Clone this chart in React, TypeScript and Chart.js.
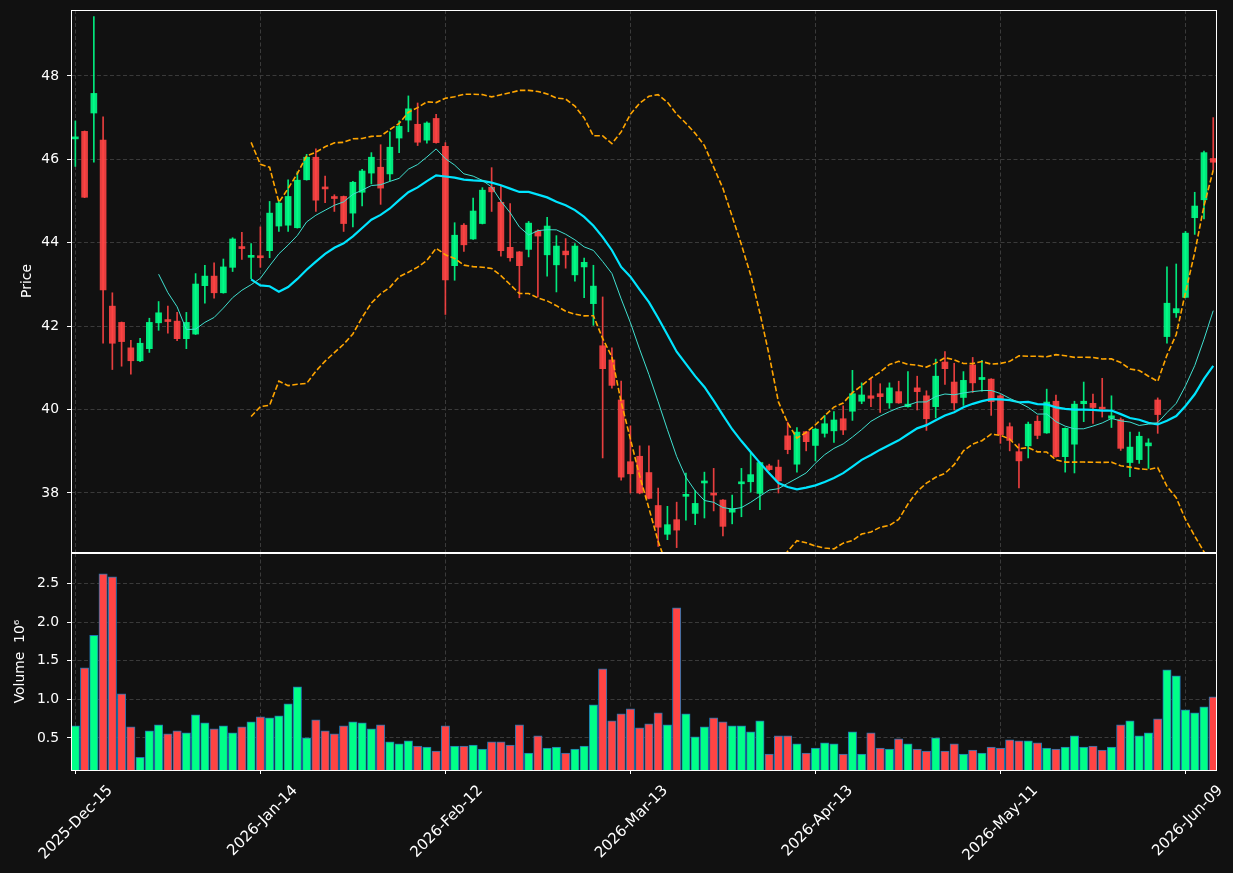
import { useEffect, useRef } from 'react';
import { Chart, registerables } from 'chart.js';

Chart.register(...registerables);

// ---- Data ----
const tickIndex = [0, 20, 40, 60, 80, 100, 120];
const tickLabels = ['2025-Dec-15', '2026-Jan-14', '2026-Feb-12', '2026-Mar-13', '2026-Apr-13', '2026-May-11', '2026-Jun-09'];

const opens = [
  46.49, 46.67, 47.11, 46.46, 42.48, 42.09, 41.48, 41.17, 41.46, 42.08,
  42.13, 42.12, 41.70, 41.81, 42.97, 43.20, 42.80, 43.41, 43.88, 43.65,
  43.66, 43.81, 44.40, 44.42, 44.36, 45.51, 46.05, 45.32, 45.08, 45.11,
  44.71, 45.21, 45.67, 45.81, 45.65, 46.51, 46.94, 46.84, 46.46, 46.98,
  46.31, 43.45, 44.42, 44.09, 44.46, 45.33, 44.97, 43.89, 43.78, 43.84,
  44.28, 43.71, 43.47, 43.80, 43.23, 43.42, 42.54, 41.53, 41.19, 40.23,
  38.75, 38.88, 38.49, 37.70, 37.01, 37.36, 37.92, 37.51, 38.24, 37.99,
  37.83, 37.54, 38.22, 38.27, 37.99, 38.65, 38.62, 39.37, 38.69, 39.47,
  39.14, 39.43, 39.49, 39.78, 39.96, 40.20, 40.33, 40.38, 40.16, 40.43,
  40.07, 40.52, 40.33, 40.07, 41.14, 40.66, 40.29, 41.07, 40.72, 40.73,
  40.33, 39.59, 38.99, 39.13, 39.72, 39.44, 40.20, 38.87, 39.17, 40.14,
  40.15, 40.04, 39.79, 39.76, 38.73, 38.80, 39.13, 40.23, 41.75, 42.32,
  42.69, 44.60, 45.03, 46.02,
];
const highs = [
  46.92, 46.68, 49.42, 47.02, 42.80, 42.10, 41.66, 41.71, 42.19, 42.59,
  42.48, 42.33, 42.33, 43.26, 43.46, 43.52, 43.61, 44.12, 44.25, 43.98,
  44.38, 44.99, 45.00, 45.51, 45.70, 46.12, 46.25, 45.60, 45.15, 45.12,
  45.47, 45.76, 46.16, 46.35, 46.66, 46.92, 47.52, 47.35, 46.90, 47.08,
  46.40, 44.48, 44.46, 45.07, 45.32, 45.80, 45.35, 44.94, 43.79, 44.51,
  44.31, 44.61, 44.17, 44.10, 43.98, 43.63, 43.46, 42.70, 41.48, 40.68,
  39.61, 39.13, 39.13, 38.12, 37.68, 37.78, 38.48, 38.06, 38.50, 38.59,
  37.84, 37.95, 38.59, 38.96, 38.74, 38.69, 38.79, 39.70, 39.57, 39.48,
  39.55, 39.86, 39.95, 40.09, 40.94, 40.64, 40.75, 40.62, 40.64, 40.68,
  40.91, 40.80, 40.45, 41.21, 41.39, 41.11, 40.91, 41.25, 41.18, 40.74,
  40.36, 39.68, 39.18, 39.70, 39.85, 40.49, 40.35, 39.56, 40.20, 40.66,
  40.37, 40.75, 40.33, 39.80, 39.46, 39.46, 39.30, 40.28, 43.42, 43.49,
  44.27, 45.21, 46.20, 47.00,
];
const lows = [
  45.83, 45.08, 45.93, 41.59, 40.96, 41.04, 40.85, 41.15, 41.37, 41.90,
  41.83, 41.65, 41.46, 41.80, 42.55, 42.67, 42.79, 43.31, 43.60, 43.14,
  43.41, 43.64, 44.27, 44.27, 44.35, 45.50, 44.75, 44.96, 44.75, 44.27,
  44.38, 44.88, 45.41, 44.92, 45.49, 46.16, 46.66, 46.33, 46.39, 46.39,
  42.28, 43.10, 43.79, 44.08, 44.45, 44.75, 43.68, 43.56, 42.68, 43.66,
  42.70, 43.20, 42.82, 43.39, 43.08, 42.68, 42.02, 38.84, 40.51, 38.31,
  38.00, 37.98, 37.86, 36.72, 36.88, 36.69, 37.35, 37.24, 37.40, 37.57,
  36.97, 37.26, 37.43, 38.02, 37.60, 38.54, 38.00, 38.94, 38.50, 39.01,
  38.77, 39.34, 39.21, 39.40, 39.74, 40.14, 40.07, 39.93, 40.03, 40.15,
  40.06, 39.99, 39.50, 39.80, 40.60, 39.99, 40.10, 40.41, 40.44, 39.86,
  39.19, 39.01, 38.12, 38.84, 39.30, 39.43, 38.86, 38.50, 38.48, 39.71,
  39.67, 39.82, 39.57, 39.02, 38.39, 38.71, 38.59, 39.43, 41.59, 42.21,
  42.68, 44.20, 44.57, 45.74,
];
const closes = [
  46.53, 45.09, 47.58, 42.87, 41.59, 41.63, 41.17, 41.59, 42.09, 42.32,
  42.11, 41.70, 42.09, 43.01, 43.20, 42.80, 43.42, 44.09, 43.86, 43.66,
  43.64, 44.71, 44.95, 45.11, 45.50, 46.05, 45.02, 45.29, 45.06, 44.46,
  45.45, 45.72, 46.05, 45.31, 46.29, 46.79, 47.21, 46.41, 46.87, 46.40,
  43.11, 44.18, 43.95, 44.76, 45.26, 45.22, 43.81, 43.64, 43.45, 44.47,
  44.16, 44.40, 43.92, 43.71, 43.92, 43.53, 42.96, 40.98, 40.58, 38.38,
  38.46, 38.00, 37.87, 37.18, 37.24, 37.11, 37.96, 37.75, 38.25, 37.95,
  37.20, 37.62, 38.24, 38.44, 38.73, 38.56, 38.29, 39.04, 39.46, 39.23,
  39.53, 39.66, 39.75, 39.51, 40.38, 40.35, 40.27, 40.31, 40.52, 40.16,
  40.13, 40.43, 39.78, 40.80, 40.98, 40.16, 40.70, 40.64, 40.77, 40.19,
  39.40, 39.26, 38.77, 39.65, 39.38, 40.18, 38.87, 39.55, 40.13, 40.20,
  40.05, 40.01, 39.85, 39.07, 39.10, 39.36, 39.20, 39.88, 42.55, 42.42,
  44.23, 44.88, 46.16, 45.93,
];
// volume in millions
const volumes = [
  0.656, 1.409, 1.833, 2.630, 2.591, 1.071, 0.643, 0.249, 0.591, 0.669,
  0.552, 0.591, 0.565, 0.799, 0.695, 0.617, 0.656, 0.565, 0.643, 0.708,
  0.773, 0.760, 0.786, 0.942, 1.162, 0.500, 0.734, 0.591, 0.552, 0.656,
  0.708, 0.695, 0.617, 0.669, 0.448, 0.422, 0.461, 0.396, 0.383, 0.331,
  0.656, 0.396, 0.396, 0.409, 0.357, 0.448, 0.448, 0.409, 0.669, 0.305,
  0.526, 0.370, 0.383, 0.305, 0.357, 0.396, 0.929, 1.396, 0.721, 0.812,
  0.877, 0.630, 0.682, 0.825, 0.669, 2.188, 0.812, 0.513, 0.643, 0.760,
  0.708, 0.656, 0.656, 0.578, 0.721, 0.292, 0.526, 0.526, 0.422, 0.305,
  0.370, 0.435, 0.422, 0.292, 0.578, 0.292, 0.565, 0.370, 0.357, 0.487,
  0.422, 0.357, 0.331, 0.500, 0.331, 0.422, 0.292, 0.344, 0.305, 0.383,
  0.370, 0.474, 0.461, 0.461, 0.435, 0.370, 0.357, 0.383, 0.526, 0.383,
  0.396, 0.344, 0.383, 0.669, 0.721, 0.526, 0.565, 0.747, 1.383, 1.305,
  0.864, 0.825, 0.903, 1.032,
];
const priceTicks = [38, 40, 42, 44, 46, 48];
const volumeTicks = [0.5, 1.0, 1.5, 2.0, 2.5];

// ---- Styling constants ----
const X_MIN = -0.47;
const X_MAX = 123.3;
const BG = '#111111';
const GRID = '#3a3a3a';
const TEXT = '#ffffff';
const FONT = { family: "'DejaVu Sans'", size: 13.9 };
const XFONT = { family: "'DejaVu Sans'", size: 15 };
const UP_CANDLE = 'rgba(0,255,136,0.9)';
const DOWN_CANDLE = 'rgba(255,68,68,0.9)';
const UP_VOL = '#00ff88';
const DOWN_VOL = '#ff4444';

// rolling indicators derived from the close series
function rollingMean(vals: number[], n: number) {
  return vals.map((_, i) => {
    if (i < n - 1) return null;
    let s = 0;
    for (let k = i - n + 1; k <= i; k++) s += vals[k];
    return s / n;
  });
}
function rollingStd(vals: number[], n: number) {
  const m = rollingMean(vals, n);
  return vals.map((_, i) => {
    if (i < n - 1) return null;
    let s = 0;
    for (let k = i - n + 1; k <= i; k++) s += (vals[k] - (m[i] as number)) ** 2;
    return Math.sqrt(s / n);
  });
}
const toPoints = (arr: (number | null)[]) =>
  arr.map((v, i) => (v === null ? null : { x: i, y: v })).filter(Boolean) as { x: number; y: number }[];

const frame = {
  id: 'frame',
  afterDraw(chart: any) {
    const { ctx, chartArea: a } = chart;
    ctx.save();
    ctx.strokeStyle = '#ffffff';
    ctx.lineWidth = 1;
    const l = Math.round(a.left), t = Math.round(a.top), r = Math.round(a.right), b = Math.round(a.bottom);
    ctx.strokeRect(l + 0.5, t + 0.5, r - l, b - t);
    ctx.restore();
  },
};

export default function App() {
  const priceRef = useRef<HTMLCanvasElement>(null);
  const volRef = useRef<HTMLCanvasElement>(null);

  useEffect(() => {
    const isUp = closes.map((c, i) => c >= opens[i]);
    const ma10 = rollingMean(closes, 10);
    const ma20 = rollingMean(closes, 20);
    const sd20 = rollingStd(closes, 20);
    const bbUp = ma20.map((m, i) => (m === null ? null : m + 2 * (sd20[i] as number)));
    const bbLo = ma20.map((m, i) => (m === null ? null : m - 2 * (sd20[i] as number)));

    const xTicksBuild = (s: any) => {
      s.ticks = tickIndex.map((v) => ({ value: v }));
    };

    const priceChart = new Chart(priceRef.current as HTMLCanvasElement, {
      type: 'bar',
      data: {
        datasets: [
          {
            type: 'line',
            data: toPoints(ma10),
            borderColor: '#40e0d0',
            borderWidth: 1,
            pointRadius: 0,
            tension: 0,
            order: 0,
          } as any,
          {
            type: 'line',
            data: toPoints(ma20),
            borderColor: '#00e5ff',
            borderWidth: 2.2,
            pointRadius: 0,
            tension: 0,
            order: 0,
          } as any,
          {
            type: 'line',
            data: toPoints(bbUp),
            borderColor: '#ffa500',
            borderWidth: 1.6,
            borderDash: [5.5, 2.4],
            pointRadius: 0,
            tension: 0,
            order: 0,
          } as any,
          {
            type: 'line',
            data: toPoints(bbLo),
            borderColor: '#ffa500',
            borderWidth: 1.6,
            borderDash: [5.5, 2.4],
            pointRadius: 0,
            tension: 0,
            order: 0,
          } as any,
          {
            type: 'bar',
            data: opens.map((o, i) => ({ x: i, y: [o, closes[i]] })),
            backgroundColor: isUp.map((u) => (u ? UP_CANDLE : DOWN_CANDLE)),
            borderWidth: 0,
            barThickness: 6,
            minBarLength: 2,
            grouped: false,
            order: 1,
          } as any,
          {
            type: 'bar',
            data: lows.map((l, i) => ({ x: i, y: [l, highs[i]] })),
            backgroundColor: isUp.map((u) => (u ? UP_CANDLE : DOWN_CANDLE)),
            borderWidth: 0,
            barThickness: 1,
            grouped: false,
            order: 2,
          } as any,
        ],
      },
      options: {
        responsive: false,
        animation: false,
        layout: { padding: { top: 10, right: 17, bottom: 10, left: 0 } },
        plugins: { legend: { display: false }, tooltip: { enabled: false } },
        scales: {
          x: {
            type: 'linear',
            offset: false,
            min: X_MIN,
            max: X_MAX,
            afterBuildTicks: xTicksBuild,
            afterFit: (s: any) => {
              s.height = 0;
              s.paddingLeft = 0;
              s.paddingRight = 0;
            },
            ticks: { display: false },
            grid: { offset: false, color: GRID, lineWidth: 1, drawTicks: false, borderDash: [4, 2.5] } as any,
            border: { display: false, dash: [4, 2.5] },
          },
          y: {
            type: 'linear',
            min: 36.585,
            max: 49.58,
            afterBuildTicks: (s: any) => {
              s.ticks = priceTicks.map((v) => ({ value: v }));
            },
            afterFit: (s: any) => {
              s.width = 71;
              s.paddingTop = 0;
              s.paddingBottom = 0;
            },
            ticks: { color: TEXT, font: FONT, padding: 8, callback: (v: any) => String(v) },
            grid: { color: GRID, lineWidth: 1, tickColor: '#ffffff', tickLength: 4, tickBorderDash: [], borderDash: [4, 2.5] } as any,
            border: { display: false, dash: [4, 2.5] },
            title: { display: true, text: 'Price', color: TEXT, font: FONT, padding: { top: 19, bottom: 0 } },
          },
        },
      },
      plugins: [frame],
    } as any);

    const volChart = new Chart(volRef.current as HTMLCanvasElement, {
      type: 'bar',
      data: {
        datasets: [
          {
            data: volumes.map((v, i) => ({ x: i, y: v })),
            backgroundColor: isUp.map((u) => (u ? UP_VOL : DOWN_VOL)),
            borderColor: '#1f77b4',
            borderWidth: 1,
            barThickness: 8.4,
            grouped: false,
          },
        ],
      },
      options: {
        responsive: false,
        animation: false,
        layout: { padding: { top: 1, right: 17, bottom: 0, left: 0 } },
        plugins: { legend: { display: false }, tooltip: { enabled: false } },
        scales: {
          x: {
            type: 'linear',
            offset: false,
            min: X_MIN,
            max: X_MAX,
            afterBuildTicks: xTicksBuild,
            afterFit: (s: any) => {
              s.height = 103;
              s.paddingLeft = 0;
              s.paddingRight = 0;
            },
            ticks: {
              color: TEXT,
              font: XFONT,
              autoSkip: false,
              maxRotation: 45,
              minRotation: 45,
              padding: 8,
              labelOffset: 35,
              callback: (v: any) => {
                const k = tickIndex.indexOf(Math.round(Number(v)));
                return k >= 0 ? tickLabels[k] : '';
              },
            },
            grid: { offset: false, color: GRID, lineWidth: 1, tickColor: '#ffffff', tickLength: 4, tickBorderDash: [], borderDash: [4, 2.5] } as any,
            border: { display: false, dash: [4, 2.5] },
          },
          y: {
            type: 'linear',
            min: 0.084,
            max: 2.9,
            afterBuildTicks: (s: any) => {
              s.ticks = volumeTicks.map((v) => ({ value: v }));
            },
            afterFit: (s: any) => {
              s.width = 71;
              s.paddingTop = 0;
              s.paddingBottom = 0;
            },
            ticks: { color: TEXT, font: FONT, padding: 8, callback: (v: any) => Number(v).toFixed(1) },
            grid: { color: GRID, lineWidth: 1, tickColor: '#ffffff', tickLength: 4, tickBorderDash: [], borderDash: [4, 2.5] } as any,
            border: { display: false, dash: [4, 2.5] },
            title: { display: true, text: 'Volume  10\u2076', color: TEXT, font: FONT, padding: { top: 12, bottom: 0 } },
          },
        },
      },
      plugins: [frame],
    } as any);

    return () => {
      priceChart.destroy();
      volChart.destroy();
    };
  }, []);

  return (
    <div style={{ position: 'absolute', left: 0, top: 0, width: 1233, height: 873, background: BG, overflow: 'hidden' }}>
      <canvas ref={priceRef} width={1233} height={562} style={{ position: 'absolute', left: 0, top: 0 }} />
      <canvas ref={volRef} width={1233} height={321} style={{ position: 'absolute', left: 0, top: 552 }} />
    </div>
  );
}
